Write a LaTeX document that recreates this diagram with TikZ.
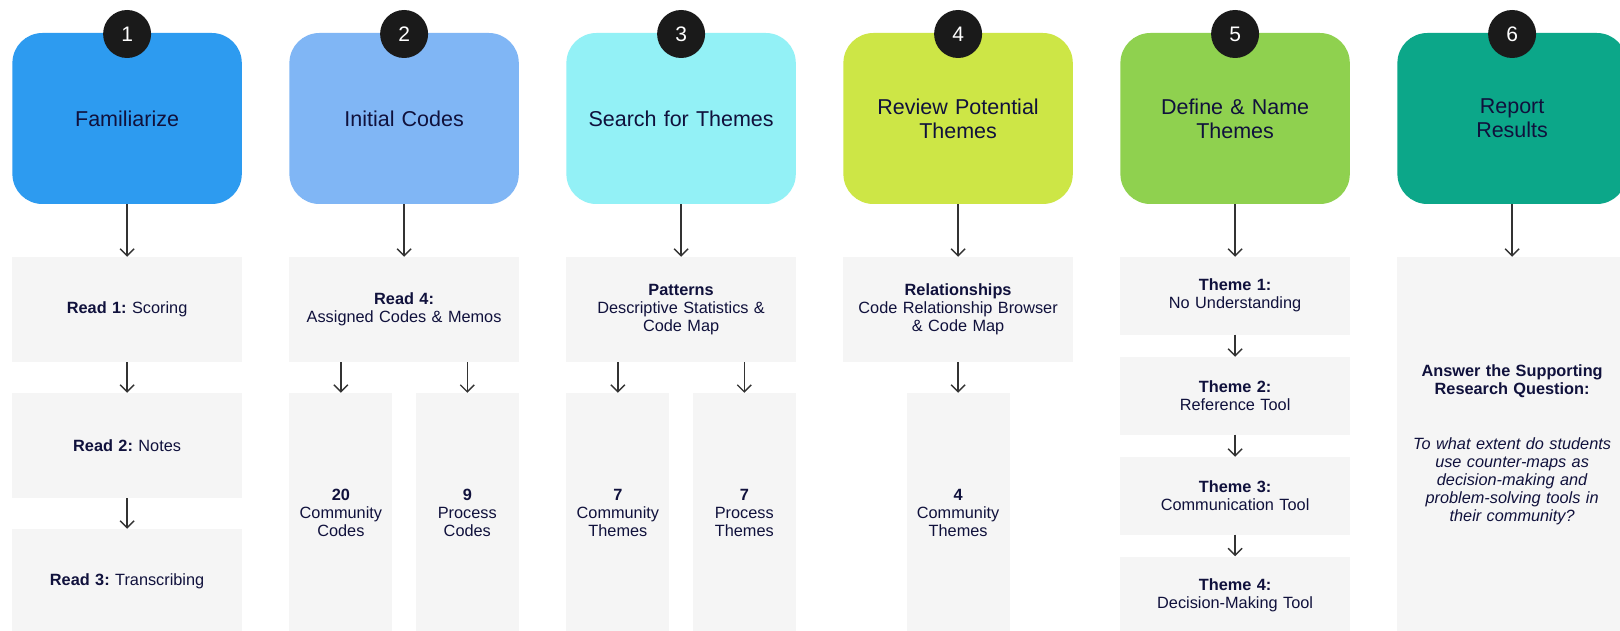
\documentclass[tikz,border=0pt]{standalone}
\usepackage{fontspec}
\setmainfont{Liberation Sans}
\usetikzlibrary{arrows.meta}
\frenchspacing
\definecolor{ink}{RGB}{16,17,60}
\definecolor{cA}{RGB}{45,155,240}
\definecolor{cB}{RGB}{128,182,245}
\definecolor{cC}{RGB}{147,241,246}
\definecolor{cD}{RGB}{205,230,70}
\definecolor{cE}{RGB}{143,209,79}
\definecolor{cF}{RGB}{12,167,137}
\definecolor{boxgray}{RGB}{245,245,245}
\definecolor{numbg}{RGB}{26,26,26}
\definecolor{arrgray}{RGB}{51,51,51}
\begin{document}
\begin{tikzpicture}[x=1pt,y=-1pt,
  phase/.style={rounded corners=30pt, minimum width=229.4pt, minimum height=171pt, inner sep=0pt, text=ink, align=center, font=\fontsize{21.5}{24}\selectfont, text width=220pt},
  info/.style={fill=boxgray, minimum width=229.4pt, inner sep=0pt, text=ink, align=center, font=\fontsize{16.3}{18}\selectfont\frenchspacing, text width=225pt},
  subbox/.style={info, minimum width=103pt, text width=100pt, minimum height=240pt},
  theme/.style={info, minimum height=77.5pt},
  num/.style={circle, fill=numbg, text=white, minimum size=48pt, inner sep=0pt, font=\fontsize{21}{21}\selectfont},
  arr/.style={draw=arrgray, line width=1.4pt, -{Straight Barb[length=7pt,width=14pt]}}
]
\useasboundingbox (0,0) rectangle (1620,631);
\fill[white] (0,0) rectangle (1620,631);

% top phase boxes
\node[phase, fill=cA] (p1) at (127.1,118.5) {Familiarize};
\node[phase, fill=cB] (p2) at (404.1,118.5) {Initial Codes};
\node[phase, fill=cC] (p3) at (681.1,118.5) {Search for Themes};
\node[phase, fill=cD] (p4) at (958.1,118.5) {Review Potential\\Themes};
\node[phase, fill=cE] (p5) at (1235.1,118.5) {Define \& Name\\Themes};
\node[phase, fill=cF] (p6) at (1512.1,118.5) {Report\\Results};

% number circles
\node[num] (n1) at (127.1,34) {1};
\node[num] (n2) at (404.1,34) {2};
\node[num] (n3) at (681.1,34) {3};
\node[num] (n4) at (958.1,34) {4};
\node[num] (n5) at (1235.1,34) {5};
\node[num] (n6) at (1512.1,34) {6};

% column 1
\node[info, minimum height=105pt] (r1) at (127.1,309.5) {\textbf{Read 1:} Scoring};
\node[info, minimum height=105pt] (r2) at (127.1,445.5) {\textbf{Read 2:} Notes};
\node[info, minimum height=105pt] (r3) at (127.1,581.5) {\textbf{Read 3:} Transcribing};

% column 2
\node[info, minimum height=105pt] (r4) at (404.1,309.5) {\textbf{Read 4:}\\Assigned Codes \& Memos};
\node[subbox] (c20) at (340.9,513) {\textbf{20}\\Community\\Codes};
\node[subbox] (c9) at (467.3,513) {\textbf{9}\\Process\\Codes};

% column 3
\node[info, minimum height=105pt] (pat) at (681.1,309.5) {\textbf{Patterns}\\Descriptive Statistics \&\\Code Map};
\node[subbox] (t7c) at (617.9,513) {\textbf{7}\\Community\\Themes};
\node[subbox] (t7p) at (744.3,513) {\textbf{7}\\Process\\Themes};

% column 4
\node[info, minimum height=105pt] (rel) at (958.1,309.5) {\textbf{Relationships}\\Code Relationship Browser\\\& Code Map};
\node[subbox] (t4c) at (958.1,513) {\textbf{4}\\Community\\Themes};

% column 5
\node[theme] (th1) at (1235.1,295.75) {\textbf{Theme 1:}\\No Understanding};
\node[theme] (th2) at (1235.1,395.75) {\textbf{Theme 2:}\\Reference Tool};
\node[theme] (th3) at (1235.1,495.75) {\textbf{Theme 3:}\\Communication Tool};
\node[theme] (th4) at (1235.1,595.25) {\textbf{Theme 4:}\\Decision-Making Tool};

% column 6
\node[info, minimum height=376pt] (ans) at (1512.1,445) {\textbf{Answer the Supporting}\\\textbf{Research Question:}\\[37pt]\itshape To what extent do students\\\itshape use counter-maps as\\\itshape decision-making and\\\itshape problem-solving tools in\\\itshape their community?};

% arrows
\draw[arr] (p1.south) -- (r1.north);
\draw[arr] (p2.south) -- (r4.north);
\draw[arr] (p3.south) -- (pat.north);
\draw[arr] (p4.south) -- (rel.north);
\draw[arr] (p5.south) -- (th1.north);
\draw[arr] (p6.south) -- (ans.north);

\draw[arr] (r1.south) -- (r2.north);
\draw[arr] (r2.south) -- (r3.north);

\draw[arr] (r4.south -| c20.north) -- (c20.north);
\draw[arr] (r4.south -| c9.north) -- (c9.north);

\draw[arr] (pat.south -| t7c.north) -- (t7c.north);
\draw[arr] (pat.south -| t7p.north) -- (t7p.north);

\draw[arr] (rel.south) -- (t4c.north);

\draw[arr] (th1.south) -- (th2.north);
\draw[arr] (th2.south) -- (th3.north);
\draw[arr] (th3.south) -- (th4.north);
\end{tikzpicture}
\end{document}
